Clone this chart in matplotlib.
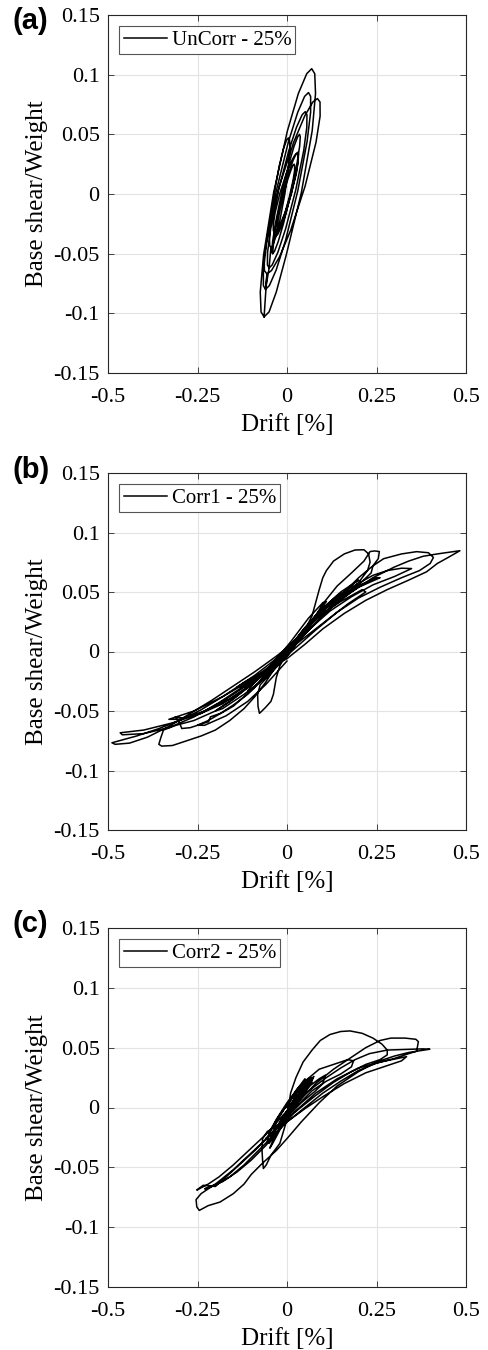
import matplotlib
matplotlib.use("Agg")
import matplotlib.pyplot as plt
import numpy as np

plt.rcParams['font.family'] = ['Liberation Serif', 'DejaVu Serif']
plt.rcParams['axes.unicode_minus'] = False

# drift [%], base shear/weight
uncorr = np.array([
    (-0.025, -0.030), (-0.0215, -0.0288), (-0.0152, -0.0245), (-0.0058, -0.0163), (0.0065, -0.0025),
    (0.0168, 0.0113), (0.0212, 0.0195), (0.0213, 0.0239), (0.020, 0.025), (0.0163, 0.0239),
    (0.0104, 0.0195), (0.0012, 0.0113), (-0.0115, -0.0025), (-0.0214, -0.0163), (-0.0262, -0.0245),
    (-0.0265, -0.0288), (-0.025, -0.030),
    (-0.030, -0.035), (-0.0254, -0.0336), (-0.0168, -0.028), (-0.0046, -0.0175), (0.012, 0.000),
    (0.0254, 0.0175), (0.0312, 0.028), (0.0322, 0.0336), (0.030, 0.035), (0.0254, 0.0336),
    (0.0168, 0.028), (0.0046, 0.0175), (-0.012, 0.000), (-0.0254, -0.0175), (-0.0312, -0.028),
    (-0.0322, -0.0336), (-0.030, -0.035),
    (-0.035, -0.032), (-0.0292, -0.0307), (-0.0191, -0.0254), (-0.0054, -0.0155), (0.0125, 0.001),
    (0.0262, 0.0175), (0.0313, 0.0274), (0.0312, 0.0327), (0.028, 0.034), (0.0222, 0.0327),
    (0.0121, 0.0274), (-0.0016, 0.0175), (-0.0195, 0.001), (-0.0332, -0.0155), (-0.0383, -0.0254),
    (-0.0382, -0.0307), (-0.035, -0.032),
    (-0.040, -0.050), (-0.0349, -0.048), (-0.0247, -0.040), (-0.010, -0.025), (0.0105, 0.000),
    (0.0276, 0.025), (0.0353, 0.040), (0.0371, 0.048), (0.035, 0.050), (0.0299, 0.048),
    (0.0197, 0.040), (0.005, 0.025), (-0.0155, 0.000), (-0.0326, -0.025), (-0.0403, -0.040),
    (-0.0421, -0.048), (-0.040, -0.050),
    (-0.045, -0.045), (-0.0398, -0.0432), (-0.0311, -0.0358), (-0.0198, -0.022), (-0.0055, 0.001),
    (0.0047, 0.024), (0.0081, 0.0378), (0.0072, 0.0452), (0.004, 0.047), (-0.0012, 0.0452),
    (-0.0099, 0.0378), (-0.0213, 0.024), (-0.0355, 0.001), (-0.0458, -0.022), (-0.0491, -0.0358),
    (-0.0482, -0.0432), (-0.045, -0.045),
    (-0.050, -0.062), (-0.0413, -0.0594), (-0.0255, -0.0489), (-0.004, -0.0293), (0.0245, 0.0035),
    (0.0466, 0.0363), (0.0553, 0.0559), (0.0557, 0.0664), (0.051, 0.069), (0.0423, 0.0664),
    (0.0265, 0.0559), (0.005, 0.0363), (-0.0235, 0.0035), (-0.0456, -0.0293), (-0.0543, -0.0489),
    (-0.0547, -0.0594), (-0.050, -0.062),
    (-0.060, -0.080), (-0.0492, -0.0767), (-0.030, -0.0635), (-0.004, -0.0388), (0.030, 0.0025),
    (0.056, 0.0438), (0.066, 0.0685), (0.066, 0.0818), (0.060, 0.085), (0.0492, 0.0818),
    (0.030, 0.0685), (0.004, 0.0438), (-0.030, 0.0025), (-0.056, -0.0388), (-0.066, -0.0635),
    (-0.066, -0.0767), (-0.060, -0.080),
    (-0.056, -0.067), (-0.0432, -0.0641), (-0.0203, -0.0523), (0.0104, -0.0303), (0.0505, 0.0065),
    (0.081, 0.0433), (0.0925, 0.0653), (0.0922, 0.0771), (0.085, 0.080), (0.0722, 0.0771),
    (0.0493, 0.0653), (0.0186, 0.0433), (-0.0215, 0.0065), (-0.052, -0.0303), (-0.0635, -0.0523),
    (-0.0632, -0.0641), (-0.056, -0.067),
    (-0.064, -0.103), (-0.0501, -0.0988), (-0.030, -0.0822), (-0.002, -0.051), (0.040, 0.001),
    (0.0704, 0.053), (0.0797, 0.0842), (0.0775, 0.1008), (0.069, 0.105), (0.0551, 0.1008),
    (0.0317, 0.0842), (0.0012, 0.053), (-0.0375, 0.001), (-0.0654, -0.051), (-0.0747, -0.0822),
    (-0.0725, -0.0988), (-0.064, -0.103),
])

corr1 = np.array([
    (0.000, 0.000), (0.040, 0.016), (0.090, 0.034), (0.110, 0.042), (0.100, 0.041), (0.060, 0.028),
    (0.010, 0.008), (-0.040, -0.010), (-0.090, -0.026), (-0.110, -0.033), (-0.100, -0.032),
    (-0.050, -0.018), (0.000, -0.004),
    (0.040, 0.012), (0.070, 0.030), (0.090, 0.052), (0.100, 0.062), (0.110, 0.068), (0.130, 0.076),
    (0.160, 0.082), (0.190, 0.0853), (0.215, 0.0855), (0.228, 0.082), (0.232, 0.075), (0.225, 0.068),
    (0.200, 0.058), (0.170, 0.049), (0.130, 0.039), (0.080, 0.024), (0.030, 0.008), (-0.020, -0.010),
    (-0.050, -0.020), (-0.075, -0.028), (-0.082, -0.036), (-0.081, -0.046), (-0.077, -0.052),
    (-0.070, -0.050), (-0.060, -0.047), (-0.045, -0.042), (-0.038, -0.036), (-0.030, -0.022),
    (-0.020, -0.012), (0.010, 0.004),
    (0.060, 0.018), (0.120, 0.036), (0.180, 0.050), (0.240, 0.062), (0.300, 0.071), (0.340, 0.076),
    (0.380, 0.080), (0.420, 0.082), (0.483, 0.0847), (0.450, 0.079), (0.420, 0.074), (0.390, 0.067),
    (0.340, 0.060), (0.280, 0.052), (0.220, 0.043), (0.160, 0.032), (0.100, 0.019), (0.050, 0.006),
    (0.000, -0.006),
    (-0.060, -0.016), (-0.120, -0.026), (-0.180, -0.038), (-0.240, -0.049), (-0.300, -0.058),
    (-0.360, -0.065), (-0.420, -0.071), (-0.489, -0.0767), (-0.480, -0.078), (-0.440, -0.077),
    (-0.390, -0.072), (-0.330, -0.063), (-0.270, -0.052), (-0.210, -0.041), (-0.150, -0.029),
    (-0.090, -0.017), (-0.030, -0.004), (0.030, 0.010),
    (0.100, 0.030), (0.160, 0.050), (0.200, 0.062), (0.240, 0.072), (0.270, 0.078), (0.320, 0.082),
    (0.362, 0.0839), (0.395, 0.083), (0.409, 0.079), (0.400, 0.074), (0.370, 0.068), (0.320, 0.062),
    (0.260, 0.054), (0.200, 0.045), (0.140, 0.033), (0.080, 0.018), (0.020, 0.002), (-0.040, -0.014),
    (-0.100, -0.026), (-0.170, -0.040), (-0.240, -0.052), (-0.320, -0.060), (-0.400, -0.066),
    (-0.466, -0.0683), (-0.460, -0.070), (-0.400, -0.069), (-0.330, -0.064), (-0.260, -0.055),
    (-0.190, -0.043), (-0.120, -0.029), (-0.060, -0.016), (0.000, 0.000),
    (0.060, 0.018), (0.120, 0.034), (0.180, 0.046), (0.240, 0.056), (0.300, 0.063), (0.348, 0.0697),
    (0.320, 0.070), (0.280, 0.068), (0.240, 0.064), (0.180, 0.054), (0.120, 0.040), (0.060, 0.022),
    (0.000, 0.001),
    (-0.050, -0.014), (-0.100, -0.028), (-0.150, -0.040), (-0.200, -0.050), (-0.260, -0.058),
    (-0.310, -0.062), (-0.345, -0.066), (-0.352, -0.072), (-0.358, -0.078), (-0.350, -0.0795),
    (-0.320, -0.079), (-0.280, -0.075), (-0.240, -0.071), (-0.200, -0.066), (-0.160, -0.058),
    (-0.120, -0.048), (-0.090, -0.038), (-0.060, -0.026), (-0.030, -0.012), (0.000, 0.000),
    (0.060, 0.020), (0.100, 0.040), (0.140, 0.055), (0.180, 0.066), (0.215, 0.076), (0.232, 0.084),
    (0.245, 0.0845), (0.258, 0.084), (0.255, 0.078), (0.240, 0.072), (0.235, 0.066), (0.200, 0.056),
    (0.150, 0.046), (0.100, 0.034), (0.050, 0.018), (0.000, 0.002),
    (-0.060, -0.018), (-0.120, -0.032), (-0.180, -0.044), (-0.240, -0.052), (-0.290, -0.056),
    (-0.312, -0.0549), (-0.300, -0.060), (-0.294, -0.0647), (-0.270, -0.064), (-0.230, -0.060),
    (-0.219, -0.059), (-0.214, -0.0549), (-0.186, -0.052), (-0.150, -0.045), (-0.110, -0.036),
    (-0.070, -0.024), (-0.030, -0.010), (0.010, 0.004),
    (0.060, 0.022), (0.120, 0.040), (0.160, 0.050), (0.140, 0.047), (0.090, 0.034), (0.030, 0.012),
    (-0.030, -0.006), (-0.090, -0.020), (-0.140, -0.030), (-0.120, -0.030), (-0.060, -0.016),
    (0.000, 0.000),
    (0.050, 0.020), (0.100, 0.036), (0.150, 0.050), (0.200, 0.060), (0.190, 0.058), (0.140, 0.045),
    (0.080, 0.028), (0.020, 0.006), (-0.040, -0.012), (-0.100, -0.028), (-0.160, -0.042),
    (-0.200, -0.050), (-0.180, -0.048), (-0.120, -0.036), (-0.060, -0.022), (0.000, -0.004),
    (0.070, 0.024), (0.140, 0.042), (0.200, 0.054), (0.260, 0.062), (0.250, 0.062), (0.190, 0.054),
    (0.120, 0.040), (0.050, 0.020), (-0.020, -0.006), (-0.100, -0.024), (-0.180, -0.038),
    (-0.260, -0.050), (-0.330, -0.057), (-0.300, -0.057), (-0.230, -0.050), (-0.160, -0.040),
    (-0.090, -0.026), (-0.030, -0.010), (0.000, 0.000),
    (0.050, 0.012), (0.110, 0.026), (0.170, 0.040), (0.220, 0.050), (0.210, 0.052), (0.150, 0.042),
    (0.090, 0.030), (0.030, 0.012), (-0.030, -0.008), (-0.090, -0.030), (-0.150, -0.046),
    (-0.220, -0.058), (-0.250, -0.062), (-0.230, -0.062), (-0.170, -0.054), (-0.110, -0.042),
    (-0.060, -0.028), (0.000, -0.008),
])

corr2 = np.array([
    (0.000, 0.000), (0.030, 0.010), (0.060, 0.020), (0.070, 0.025), (0.060, 0.024), (0.030, 0.016),
    (0.000, 0.004), (-0.030, -0.010), (-0.050, -0.022), (-0.055, -0.028), (-0.045, -0.025),
    (-0.020, -0.012), (0.010, 0.002),
    (0.040, 0.014), (0.065, 0.024), (0.070, 0.021), (0.050, 0.012), (0.020, 0.000), (-0.010, -0.012),
    (-0.040, -0.026), (-0.050, -0.030), (-0.040, -0.022), (-0.010, -0.008), (0.020, 0.006),
    (0.050, 0.018), (0.060, 0.024), (0.045, 0.020), (0.015, 0.008), (-0.015, -0.004), (-0.040, -0.016),
    (-0.035, -0.018), (-0.010, -0.010), (0.010, 0.000),
    (0.050, 0.015), (0.090, 0.024), (0.107, 0.027), (0.100, 0.020), (0.080, 0.014), (0.040, 0.004),
    (0.000, -0.008), (-0.030, -0.016),
    (-0.055, -0.020), (-0.068, -0.026), (-0.070, -0.035), (-0.068, -0.045), (-0.066, -0.051),
    (-0.058, -0.048), (-0.045, -0.040), (-0.030, -0.034), (-0.020, -0.030), (-0.010, -0.020),
    (0.000, -0.010),
    (0.010, 0.012), (0.025, 0.025), (0.045, 0.038), (0.070, 0.048), (0.093, 0.056), (0.120, 0.061),
    (0.150, 0.0635), (0.176, 0.064), (0.210, 0.062), (0.240, 0.058), (0.265, 0.053), (0.280, 0.048),
    (0.280, 0.044), (0.260, 0.040), (0.220, 0.036), (0.180, 0.030), (0.130, 0.021), (0.080, 0.010),
    (0.030, -0.002), (-0.010, -0.012),
    (-0.050, -0.024), (-0.100, -0.038), (-0.150, -0.052), (-0.200, -0.064), (-0.240, -0.072),
    (-0.254, -0.077), (-0.252, -0.083), (-0.245, -0.086), (-0.220, -0.082), (-0.187, -0.079),
    (-0.150, -0.072), (-0.120, -0.064), (-0.100, -0.056), (-0.070, -0.047), (-0.030, -0.036),
    (0.000, -0.026), (0.040, -0.012),
    (0.090, 0.004), (0.140, 0.018), (0.200, 0.030), (0.250, 0.038), (0.300, 0.043), (0.340, 0.046),
    (0.399, 0.0487), (0.380, 0.049), (0.330, 0.0485), (0.280, 0.048), (0.230, 0.045), (0.190, 0.040),
    (0.150, 0.033), (0.110, 0.025), (0.070, 0.016), (0.030, 0.006), (-0.010, -0.006),
    (-0.050, -0.020), (-0.100, -0.034), (-0.150, -0.048), (-0.190, -0.058), (-0.220, -0.064),
    (-0.252, -0.069), (-0.234, -0.065), (-0.200, -0.066), (-0.170, -0.058), (-0.130, -0.047),
    (-0.090, -0.036), (-0.050, -0.024), (-0.010, -0.010), (0.030, 0.004),
    (0.080, 0.020), (0.130, 0.032), (0.180, 0.042), (0.220, 0.050), (0.260, 0.056), (0.290, 0.058),
    (0.330, 0.058), (0.360, 0.057), (0.367, 0.055), (0.362, 0.047), (0.340, 0.045), (0.300, 0.041),
    (0.250, 0.037), (0.200, 0.031), (0.150, 0.022), (0.100, 0.012), (0.050, 0.000), (0.000, -0.012),
    (-0.040, -0.024), (-0.080, -0.036), (-0.120, -0.048), (-0.160, -0.058), (-0.200, -0.065),
    (-0.230, -0.068), (-0.215, -0.066), (-0.180, -0.062), (-0.140, -0.054), (-0.100, -0.044),
    (-0.060, -0.032), (-0.020, -0.018), (0.020, -0.004),
    (0.080, 0.012), (0.140, 0.024), (0.200, 0.033), (0.260, 0.038), (0.310, 0.041), (0.334, 0.0425),
    (0.320, 0.039), (0.280, 0.035), (0.220, 0.029), (0.160, 0.020), (0.100, 0.009), (0.050, -0.001),
    (0.000, -0.012),
    (0.020, 0.008), (0.050, 0.022), (0.090, 0.032), (0.130, 0.036), (0.170, 0.040), (0.186, 0.039),
    (0.180, 0.034), (0.150, 0.028), (0.110, 0.022), (0.070, 0.014), (0.030, 0.002), (-0.020, -0.014),
    (-0.060, -0.026), (-0.040, -0.022), (0.000, -0.006),
    (0.030, 0.006), (0.055, 0.016), (0.072, 0.024), (0.065, 0.025), (0.040, 0.018), (0.010, 0.006),
    (-0.020, -0.006), (-0.045, -0.018), (-0.052, -0.024), (-0.040, -0.022), (-0.015, -0.012),
    (0.010, -0.002),
    (0.035, 0.010), (0.060, 0.020), (0.075, 0.026), (0.068, 0.022), (0.045, 0.012), (0.015, 0.000),
    (-0.015, -0.014), (-0.040, -0.028), (-0.048, -0.034), (-0.040, -0.030), (-0.015, -0.016),
    (0.010, -0.004),
    (0.040, 0.016), (0.055, 0.022), (0.050, 0.024), (0.025, 0.014), (-0.005, 0.000), (-0.030, -0.012),
    (-0.035, -0.020), (-0.020, -0.014), (0.000, -0.004),
])

series = [uncorr, corr1, corr2]
legend_labels = ["UnCorr - 25%", "Corr1 - 25%", "Corr2 - 25%"]
panel_labels = ["(a)", "(b)", "(c)"]
xticks = [-0.5, -0.25, 0, 0.25, 0.5]
xtick_labels = ["-0.5", "-0.25", "0", "0.25", "0.5"]
yticks = [-0.15, -0.1, -0.05, 0, 0.05, 0.1, 0.15]
ytick_labels = ["-0.15", "-0.1", "-0.05", "0", "0.05", "0.1", "0.15"]

W, H = 488, 1350
fig = plt.figure(figsize=(W / 100, H / 100), dpi=100)

# axes boxes in pixels: top, bottom
boxes = [(15, 373), (473, 830), (928, 1287)]
label_y = [21, 470, 924]
left, right = 108, 466

for i in range(3):
    top, bot = boxes[i]
    ax = fig.add_axes([left / W, 1 - bot / H, (right - left) / W, (bot - top) / H])
    d = series[i]
    ax.plot(d[:, 0], d[:, 1], color='black', lw=1.1, label=legend_labels[i])
    ax.set_xlim(-0.5, 0.5)
    ax.set_ylim(-0.15, 0.15)
    ax.set_xticks(xticks)
    ax.set_xticklabels(xtick_labels)
    ax.set_yticks(yticks)
    ax.set_yticklabels(ytick_labels)
    ax.grid(True, color='#e3e3e3', lw=0.8)
    ax.set_axisbelow(True)
    ax.tick_params(direction='in', top=True, right=True, length=4, width=0.6,
                   color='#262626', labelsize=16)
    ax.tick_params(axis='x', pad=11)
    ax.tick_params(axis='y', pad=6)
    for s in ax.spines.values():
        s.set_color('#262626')
        s.set_linewidth(0.8)
    ax.set_xlabel("Drift [%]", fontsize=18, labelpad=5)
    ax.set_ylabel("Base shear/Weight", fontsize=18, labelpad=4)
    leg = ax.legend(loc='upper left', fontsize=15, fancybox=False, framealpha=1,
                    edgecolor='#555555', handlelength=2.1, handletextpad=0.2,
                    borderpad=0.2, borderaxespad=0.55)
    leg.get_frame().set_linewidth(0.8)
    fig.text(12 / W, 1 - label_y[i] / H, panel_labels[i], fontsize=21, fontweight='bold',
             family=['Liberation Sans', 'DejaVu Sans'], ha='left', va='center')

fig.savefig("out.png", dpi=100)
